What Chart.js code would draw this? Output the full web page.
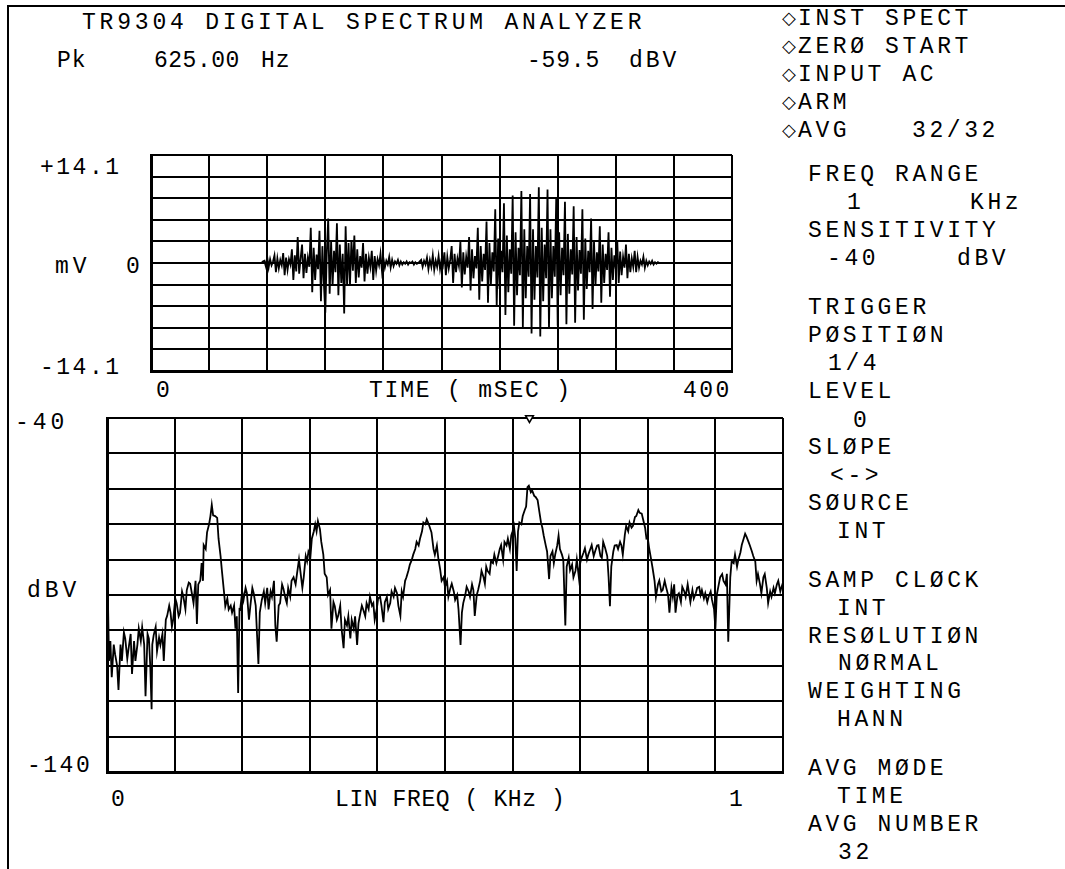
<!DOCTYPE html>
<html><head><meta charset="utf-8">
<script src="https://cdn.jsdelivr.net/npm/chart.js@4.4.1/dist/chart.umd.min.js"></script>
<style>
html,body{margin:0;padding:0;background:#fff;}
#stage{position:relative;width:1065px;height:869px;overflow:hidden;background:#fff;}
.t{position:absolute;font-family:"Liberation Mono","DejaVu Sans Mono",monospace;font-size:23px;line-height:23px;color:#000;white-space:pre;letter-spacing:3.6px;}
.d{position:absolute;font-family:"DejaVu Sans","DejaVu Sans Mono",sans-serif;font-size:18px;line-height:18px;color:#000;}
canvas{position:absolute;}
.fl{position:absolute;background:#000;}
</style></head>
<body><div id="stage">
<div class="fl" style="left:7px;top:5px;width:1058px;height:2px"></div>
<div class="fl" style="left:7px;top:5px;width:2px;height:864px"></div>

<div class="t" style="left:82px;top:12px;letter-spacing:3.8px">TR9304 DIGITAL SPECTRUM ANALYZER</div>
<div class="t" style="left:57px;top:50px;letter-spacing:1px">Pk</div>
<div class="t" style="left:154px;top:50px;letter-spacing:0.5px">625.00</div>
<div class="t" style="left:261px;top:50px;letter-spacing:1px">Hz</div>
<div class="t" style="left:527px;top:50px;letter-spacing:0.8px">-59.5</div>
<div class="t" style="left:629px;top:50px;letter-spacing:3px">dBV</div>

<div class="d" style="left:782px;top:9px">◇</div><div class="t" style="left:798px;top:8px">INST SPECT</div>
<div class="d" style="left:782px;top:37px">◇</div><div class="t" style="left:798px;top:36px">ZERØ START</div>
<div class="d" style="left:782px;top:65px">◇</div><div class="t" style="left:798px;top:64px">INPUT AC</div>
<div class="d" style="left:782px;top:93px">◇</div><div class="t" style="left:798px;top:92px">ARM</div>
<div class="d" style="left:782px;top:121px">◇</div><div class="t" style="left:798px;top:120px">AVG</div>
<div class="t" style="left:912px;top:120px">32/32</div>

<div class="t" style="left:808px;top:164px">FREQ RANGE</div>
<div class="t" style="left:847px;top:192px">1</div>
<div class="t" style="left:970px;top:192px">KHz</div>
<div class="t" style="left:808px;top:220px">SENSITIVITY</div>
<div class="t" style="left:827px;top:248px">-40</div>
<div class="t" style="left:957px;top:248px">dBV</div>

<div class="t" style="left:808px;top:297px">TRIGGER</div>
<div class="t" style="left:808px;top:325px">PØSITIØN</div>
<div class="t" style="left:828px;top:353px">1/4</div>
<div class="t" style="left:808px;top:381px">LEVEL</div>
<div class="t" style="left:853px;top:410px">0</div>
<div class="t" style="left:808px;top:437px">SLØPE</div>
<div class="t" style="left:830px;top:465px">&lt;-&gt;</div>
<div class="t" style="left:808px;top:493px">SØURCE</div>
<div class="t" style="left:837px;top:521px">INT</div>

<div class="t" style="left:808px;top:570px">SAMP CLØCK</div>
<div class="t" style="left:837px;top:598px">INT</div>
<div class="t" style="left:808px;top:626px">RESØLUTIØN</div>
<div class="t" style="left:838px;top:653px">NØRMAL</div>
<div class="t" style="left:808px;top:681px">WEIGHTING</div>
<div class="t" style="left:837px;top:709px">HANN</div>

<div class="t" style="left:808px;top:758px">AVG MØDE</div>
<div class="t" style="left:837px;top:786px">TIME</div>
<div class="t" style="left:808px;top:814px">AVG NUMBER</div>
<div class="t" style="left:838px;top:842px">32</div>

<div class="t" style="left:40px;top:157px;letter-spacing:2.5px">+14.1</div>
<div class="t" style="left:55px;top:256px;letter-spacing:4px">mV</div>
<div class="t" style="left:126px;top:256px">0</div>
<div class="t" style="left:40px;top:357px;letter-spacing:2.5px">-14.1</div>
<div class="t" style="left:156px;top:380px">0</div>
<div class="t" style="left:369px;top:380px;letter-spacing:1.8px">TIME ( mSEC )</div>
<div class="t" style="left:683px;top:380px;letter-spacing:2.5px">400</div>
<div class="t" style="left:15px;top:412px;letter-spacing:4px">-40</div>
<div class="t" style="left:27px;top:580px;letter-spacing:4px">dBV</div>
<div class="t" style="left:27px;top:755px;letter-spacing:2.5px">-140</div>
<div class="t" style="left:111px;top:789px">0</div>
<div class="t" style="left:335px;top:789px;letter-spacing:0.6px">LIN FREQ ( KHz )</div>
<div class="t" style="left:729px;top:789px">1</div>

<canvas id="wave" width="587" height="222" style="left:148px;top:152px"></canvas>
<canvas id="spec" width="688" height="366" style="left:101px;top:412px"></canvas>
</div>
<script>
// ---- axis grid values ----
const timeTicks = [0, 40, 80, 120, 160, 200, 240, 280, 320, 360, 400];          // ms
const mvTicks = [-14.1, -11.28, -8.46, -5.64, -2.82, 0, 2.82, 5.64, 8.46, 11.28, 14.1]; // mV
const freqTicks = [0, 100, 200, 300, 400, 500, 600, 700, 800, 900, 1000];      // Hz
const dbTicks = [-140, -130, -120, -110, -100, -90, -80, -70, -60, -50, -40];  // dBV

// ---- time record (mV): flat lead-in, then 1 ms samples from waveStartMs ----
const waveLeadMs = [0, 75];
const waveLeadMv = [0, 0];
const waveStartMs = 76;
const waveMv = [
  0, 0.2, 0.3, -0.4, 0.8, -0.6, 0.5, -0.3, 0.2, 1.0,
  -1.2, 0.6, -0.7, 0.4, -0.3, 1.3, -1.6, 0.7, -0.9, 0.5,
  -0.2, 1.8, -2.2, 1.0, -1.1, 3.4, -1.4, 0.6, 2.4, -2.0,
  1.2, -1.3, 0.7, -0.5, 4.6, -3.8, 2.0, -2.2, 1.1, -0.8,
  4.2, -5.0, 2.2, -2.6, -6.5, 1.2, 5.8, -4.0, 2.8, -3.0,
  1.6, -1.2, 5.2, -4.2, 2.4, -2.6, 1.2, -6.6, 4.8, -3.0,
  2.6, -2.8, 3.0, -1.0, 3.6, -2.6, 1.8, -1.9, 0.9, -0.6,
  2.6, -2.4, 1.2, -1.4, 0.7, -0.5, 1.6, -2.2, 0.9, -1.0,
  0.5, -0.3, 1.2, -1.0, 0.6, -0.6, 0.3, -0.2, 0.8, -0.6,
  0.4, -0.4, 0.2, -0.1, 0.4, -0.3, 0.2, -0.2, 0.1, -0.1,
  0.2, -0.2, 0.1, 0, 0.2, -0.2, 0.1, -0.1, 0, 0.2,
  0.4, -0.5, 0.3, -0.2, 0.7, -0.8, 0.4, -0.5, 1.0, -0.9,
  0.3, -0.5, 0.9, -0.8, 0.4, -0.3, 1.4, -1.6, 0.8, -0.7,
  0.4, 2.2, -2.6, 1.2, -1.2, 0.6, -0.4, 2.8, -3.2, 1.4,
  -1.5, 0.8, -0.6, 3.4, -3.6, 1.8, -2.0, 0.9, -0.7, 4.6,
  -4.8, 2.2, -2.4, 1.2, -0.9, 5.4, -5.2, 2.6, -2.8, 1.4,
  -1.1, 7.0, -5.6, 3.2, -3.4, 1.6, -1.2, 7.8, -6.8, 3.6,
  -3.8, 1.8, -1.4, 8.8, -8.2, 4.0, -4.2, 2.0, -1.6, 9.4,
  -8.4, 4.4, -4.6, 2.2, -1.8, 9.0, -9.2, 4.4, -4.8, 2.2,
  -1.9, 9.9, -9.6, 4.6, -5.0, 2.4, -2.0, 9.6, -8.6, 4.4,
  -4.6, 2.2, -1.8, 8.6, -8.2, 4.0, -4.2, 2.0, -1.6, 8.0,
  -8.0, 3.8, -4.0, 1.8, -1.5, 7.4, -7.8, 3.4, -3.6, 1.7,
  -1.4, 7.0, -7.4, 3.2, -3.4, 1.6, -1.2, 5.8, -6.0, 2.8,
  -3.0, 1.4, -1.1, 4.8, -5.2, 2.4, -2.6, 1.2, -0.9, 4.0,
  -4.4, 2.0, -2.2, 1.0, -0.8, 3.0, -2.6, 1.5, -1.6, 0.8,
  -0.6, 2.4, -2.0, 1.2, -1.2, 0.6, -0.5, 1.6, -1.2, 0.8,
  -0.6, 0.3, -0.2, 0.8, -0.6, 0.3, -0.3, 0.2, -0.1, 0.3,
  -0.2, 0.1, -0.1, 0.1, 0
];
const waveTailMs = [400];
const waveTailMv = [0];

// ---- averaged spectrum (Hz, dBV) ----
const specFreq = [
  0, 1.5, 3, 5, 7, 10, 12, 15, 17, 20,
  22, 25, 27, 30, 32, 35, 37, 40, 42, 45,
  47, 50, 52, 55, 57, 60, 62, 64, 66, 67,
  69, 72, 74, 77, 79, 82, 84, 87, 89, 92,
  94, 96, 98, 101, 103, 106, 108, 111, 113, 116,
  118, 121, 123, 126, 128, 131, 133, 135, 138, 140,
  142, 143, 146, 148, 151, 153, 155, 157, 160, 163,
  165, 168, 170, 173, 175, 178, 180, 183, 185, 188,
  190, 192, 194, 196, 197, 200, 202, 205, 207, 210,
  212, 215, 217, 220, 222, 224, 226, 229, 232, 234,
  237, 239, 242, 244, 247, 249, 251, 254, 256, 259,
  261, 264, 266, 268, 271, 273, 276, 279, 281, 284,
  286, 289, 291, 294, 296, 298, 301, 303, 306, 308,
  310, 312, 315, 317, 320, 322, 325, 327, 330, 332,
  335, 337, 340, 342, 345, 347, 350, 352, 355, 357,
  360, 362, 365, 367, 370, 372, 374, 377, 379, 382,
  384, 387, 389, 392, 394, 396, 399, 401, 404, 406,
  409, 411, 414, 416, 419, 421, 424, 426, 429, 431,
  434, 436, 438, 441, 443, 446, 448, 451, 453, 456,
  458, 461, 463, 466, 468, 471, 473, 476, 480, 483,
  485, 488, 490, 493, 495, 498, 500, 503, 505, 508,
  510, 513, 515, 518, 520, 523, 525, 527, 530, 532,
  535, 537, 540, 542, 544, 547, 549, 552, 554, 557,
  559, 561, 563, 566, 568, 571, 573, 576, 578, 581,
  583, 586, 588, 591, 593, 596, 598, 600, 602, 604,
  606, 608, 610, 613, 615, 618, 620, 622, 624, 627,
  629, 632, 634, 637, 640, 642, 644, 646, 649, 651,
  654, 656, 659, 661, 663, 666, 668, 670, 673, 675,
  678, 680, 683, 685, 688, 690, 693, 695, 698, 700,
  702, 705, 707, 710, 712, 715, 717, 720, 722, 725,
  727, 730, 732, 734, 737, 740, 742, 744, 746, 749,
  751, 754, 756, 759, 761, 763, 766, 768, 771, 773,
  776, 778, 781, 783, 786, 788, 791, 793, 796, 798,
  800, 802, 805, 807, 810, 812, 815, 817, 820, 822,
  825, 827, 830, 832, 835, 837, 839, 841, 844, 846,
  849, 851, 854, 856, 859, 861, 863, 866, 868, 871,
  873, 876, 878, 880, 883, 885, 888, 890, 893, 895,
  898, 900, 902, 905, 907, 910, 912, 915, 917, 919,
  922, 924, 927, 929, 932, 934, 937, 939, 942, 944,
  946, 949, 951, 954, 956, 959, 961, 963, 966, 968,
  971, 973, 976, 978, 981, 983, 986, 988, 991, 993,
  996, 998, 1000
];
const specDb = [
  -93, -92.3, -108.6, -103, -113.2, -104, -106.8, -110, -116.8, -104,
  -108.6, -100.5, -102.3, -108, -105, -101, -112.3, -103, -108.6, -104,
  -99.5, -103, -99.1, -104, -118.6, -101, -102.3, -110, -122.3, -104,
  -101.4, -99, -105.9, -102, -104.1, -101, -108.6, -97, -95.9, -93,
  -95, -99, -96.8, -91, -92.3, -96, -95, -89, -90.5, -94,
  -88.6, -86.5, -86.8, -90, -92.3, -86, -98.2, -87, -85.9, -81,
  -86, -75.9, -77, -72.3, -70, -67.7, -64.5, -67.5, -67.7, -68.2,
  -74.1, -79, -83.2, -89, -93.2, -91, -94.1, -93, -95, -93,
  -99.5, -96, -117.7, -94, -94.1, -89, -91.4, -88, -89.5, -97,
  -93.2, -88, -89.5, -93, -101.4, -109.5, -95, -91.4, -89, -92.3,
  -88, -94.1, -89, -90.5, -86, -98.6, -103.2, -93, -92.3, -87,
  -88.2, -91, -92.3, -88, -90.5, -86, -85, -87, -84.1, -80,
  -83.2, -88, -85, -79, -80.5, -77.7, -79, -74.1, -72, -70,
  -72, -69.1, -71.4, -75, -78.6, -84, -85, -90, -88.6, -99.5,
  -92, -93.2, -97, -95.9, -93, -99.5, -105, -97, -98.6, -96,
  -102.3, -97, -99.5, -96, -104.1, -98, -95.9, -93, -94.1, -96,
  -92.3, -94, -90.5, -93, -92.3, -97, -94.1, -91, -90.5, -93,
  -97.7, -92, -90.5, -94, -92.3, -89, -90.5, -88, -89.5, -93,
  -95.9, -89, -90.5, -86, -85, -83, -81.4, -80, -78.6, -77,
  -75, -76, -74.1, -72, -69.5, -70, -68.6, -70, -72.3, -77,
  -78.6, -76, -79.5, -83, -86, -85, -87.7, -86, -90.5, -88,
  -86.8, -89, -91.4, -90, -94.1, -104.1, -95, -92.3, -90, -87.7,
  -89, -90.5, -87, -88.6, -95.9, -90, -88.6, -86, -83.2, -85,
  -86.8, -82, -83.2, -84, -80.5, -81, -78.6, -81, -79.5, -77,
  -75.9, -80, -75, -76, -74.1, -77, -73.2, -72, -70.5, -74,
  -83.2, -72, -69.5, -70, -67.7, -66, -65, -59.5, -59.1, -61,
  -60.5, -62, -62.3, -63.2, -67, -69.5, -71, -73.2, -76, -77.7,
  -85.5, -79, -77.7, -81, -78.6, -76, -73.2, -77, -78.6, -80,
  -98.6, -82, -79.5, -83, -81.4, -85, -83.2, -80, -85, -81,
  -79.5, -78, -76.8, -80, -78.6, -77, -75.9, -79, -77.7, -76,
  -75.9, -79, -79.5, -75, -76.8, -79, -85, -93.2, -82, -77.7,
  -76, -75.9, -77, -75, -76, -78.6, -73, -70.5, -72, -69.5,
  -71, -70.5, -68, -67.7, -66, -66.8, -67, -68.6, -71, -74.1,
  -74, -76.8, -80, -82.3, -86, -90.5, -87, -85.9, -89, -88.6,
  -86, -87.7, -90, -95, -88, -90.5, -87, -95, -90, -89.5,
  -92, -87.7, -89, -90.5, -87, -89.5, -92, -88.6, -91, -89.5,
  -88, -87.7, -90, -88.6, -91, -89.5, -92, -90.5, -89, -91.4,
  -94, -99.5, -90, -87, -85, -84.1, -86, -87, -84, -103.2,
  -85, -80.5, -81, -78.6, -82, -80, -78, -75.9, -74, -72.7,
  -73.5, -75, -76, -77.7, -79, -80.5, -86, -84.1, -87, -89.5,
  -85, -84.1, -88, -92.3, -89, -90.5, -88, -89.5, -87, -86,
  -89, -87.7, -86.5
];

// ---- peak readout ----
const peakFreq = 625.0;   // Hz
const peakDb = -59.5;     // dBV

function axis(min, max, ticks, isX) {
  return {
    type: 'linear', min: min, max: max,
    afterBuildTicks: s => { s.ticks = ticks.map(v => ({ value: v })); },
    afterFit: s => { if (isX) { s.height = 0; } else { s.width = 0; } },
    ticks: { display: false },
    grid: { color: '#000', lineWidth: 2, drawTicks: false },
    border: { color: '#000', width: 3 }
  };
}
const common = {
  responsive: false, animation: false, devicePixelRatio: 1,
  layout: { padding: 3 },
  plugins: { legend: { display: false }, tooltip: { enabled: false } },
  events: []
};

const waveData = []
  .concat(waveLeadMs.map((t, i) => ({ x: t, y: waveLeadMv[i] })))
  .concat(waveMv.map((v, i) => ({ x: waveStartMs + i, y: v })))
  .concat(waveTailMs.map((t, i) => ({ x: t, y: waveTailMv[i] })));

new Chart(document.getElementById('wave'), {
  type: 'line',
  data: { datasets: [{ data: waveData, borderColor: '#000', borderWidth: 1.8, pointRadius: 0, tension: 0, fill: false }] },
  options: Object.assign({}, common, {
    scales: {
      x: axis(timeTicks[0], timeTicks[timeTicks.length - 1], timeTicks, true),
      y: axis(mvTicks[0], mvTicks[mvTicks.length - 1], mvTicks, false)
    }
  })
});

new Chart(document.getElementById('spec'), {
  type: 'line',
  data: { datasets: [
    { data: specFreq.map((f, i) => ({ x: f, y: specDb[i] })), borderColor: '#000', borderWidth: 1.8, pointRadius: 0, tension: 0, fill: false },
    { data: [{ x: peakFreq, y: dbTicks[dbTicks.length - 1] }], showLine: false, pointStyle: 'triangle', rotation: 180,
      pointRadius: 4.5, borderColor: '#000', backgroundColor: '#fff', borderWidth: 1.5, clip: false }
  ] },
  options: Object.assign({}, common, {
    scales: {
      x: axis(freqTicks[0], freqTicks[freqTicks.length - 1], freqTicks, true),
      y: axis(dbTicks[0], dbTicks[dbTicks.length - 1], dbTicks, false)
    }
  })
});
</script>
</body></html>
